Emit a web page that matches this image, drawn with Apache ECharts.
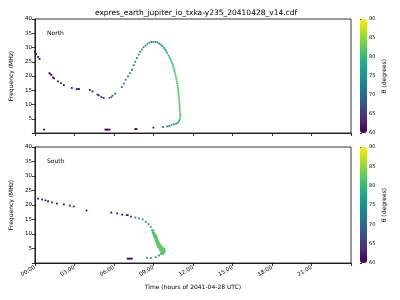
<!DOCTYPE html>
<html>
<head>
<meta charset="utf-8">
<script src="https://cdn.jsdelivr.net/npm/echarts@6/dist/echarts.min.js"></script>
<style>html,body{margin:0;padding:0;background:#fff}#c{width:400px;height:300px}</style>
</head>
<body>
<div id="c"></div>
<script>
// ---------- data ----------
const titleText = 'expres_earth_jupiter_io_txka-y235_20410428_v14.cdf';
const xTicks = [0, 3, 6, 9, 12, 15, 18, 21, 24];
const yTicks = [5, 10, 15, 20, 25, 30, 35, 40];
const cbTicks = [60, 65, 70, 75, 80, 85, 90];

// North: time (hours), frequency (MHz), theta (degrees)
const northTime = [0.00,0.10,0.25,0.35,0.70,1.10,1.18,1.25,1.37,1.45,1.75,1.97,2.20,2.80,3.17,3.27,3.35,4.17,4.37,4.75,4.85,5.05,5.22,
  5.35,5.45,5.55,5.67,5.65,5.80,5.90,6.10,6.60,6.75,6.90,7.07,7.22,7.37,7.50,7.62,7.75,7.88,8.00,8.12,8.25,8.40,8.55,8.70,8.85,9.00,
  9.15,9.30,9.43,9.55,9.67,9.80,9.90,9.97,10.05,10.15,10.22,10.30,10.37,10.43,10.48,10.52,10.57,10.60,10.65,10.68,10.72,10.75,10.77,
  10.80,10.82,10.85,10.87,10.88,10.90,10.92,10.93,10.95,10.96,10.97,10.98,10.99,11.00,11.00,11.02,11.03,11.03,11.00,10.95,10.85,
  10.72,10.55,10.37,10.20,10.05,9.73,9.00,7.62,7.72];
const northFreq = [28.4,27.7,26.7,26.0,1.2,21.0,20.7,20.3,19.5,19.2,18.1,17.5,16.8,15.8,15.4,15.4,15.4,15.1,14.6,13.5,13.2,12.6,12.3,
  1.2,1.2,1.2,1.2,12.3,12.6,13.1,13.8,16.1,17.3,18.7,19.9,21.0,22.2,23.8,25.0,26.3,27.5,28.5,29.3,30.1,30.7,31.3,31.7,31.9,32.0,
  31.9,31.8,31.4,31.0,30.5,29.9,29.3,28.7,28.0,27.2,26.5,25.8,25.1,24.4,23.7,23.0,22.3,21.6,20.9,20.2,19.5,18.8,18.1,
  17.4,16.7,16.0,15.3,14.6,13.9,13.2,12.5,11.8,11.1,10.4,9.7,9.0,8.3,7.6,6.9,6.2,5.5,4.8,4.2,3.6,
  3.3,3.1,2.8,2.5,2.3,2.1,1.9,1.4,1.4];
const northTheta = [61,61,61,61,60,61,61,61,61,61,61,61,61,61,61,61,61,61,61,62,62,62,62,
  60,60,60,60,70,71,71,72,72,72,73,73,73,73,74,74,74,74,74,74,75,75,75,75,75,75,
  75,75,75,76,76,76,77,77,78,78,79,79,80,80,80,81,81,81,82,82,82,82,82,
  82,82,82,82,82,82,82,82,82,82,82,82,82,82,82,82,82,82,81,79,77,
  76,76,75,75,74,73,61,60,60];

// South: time (hours), frequency (MHz), theta (degrees)
const southTime = [0.25,0.55,0.80,1.00,1.30,1.67,2.20,2.65,2.95,3.92,5.80,6.25,6.62,6.97,7.05,7.30,7.05,7.15,7.25,7.35,
  7.63,7.90,8.18,8.42,8.62,8.80,
  8.88,8.98, 8.93,9.03, 8.98,9.08, 9.02,9.12,9.20, 9.06,9.15,9.24, 9.10,9.20,9.30, 9.15,9.24,9.33, 9.20,9.30,9.40,
  9.25,9.35,9.45, 9.30,9.40,9.50,9.58, 9.35,9.45,9.55,9.65, 9.45,9.55,9.65,9.75,9.82, 9.50,9.60,9.70,9.80,9.85,
  9.60,9.70,9.80,9.85, 9.55,9.65,9.75,
  9.43,9.17,8.80,8.50];
const southFreq = [22.2,21.9,21.6,21.3,20.9,20.5,20.2,19.8,19.5,18.1,17.4,17.1,16.7,16.5,16.5,16.0,1.5,1.5,1.5,1.5,
  15.7,15.4,15.0,14.2,13.4,12.4,
  11.3,11.3, 10.6,10.6, 10.1,10.1, 9.5,9.5,9.5, 9.0,9.0,9.0, 8.4,8.4,8.4, 7.8,7.8,7.8, 7.2,7.2,7.2,
  6.7,6.7,6.7, 6.1,6.1,6.1,6.1, 5.5,5.5,5.5,5.5, 5.0,5.0,5.0,5.0,5.0, 4.4,4.4,4.4,4.4,4.4,
  3.8,3.8,3.8,3.8, 3.2,3.2,3.2,
  2.6,2.0,1.7,1.8];
const southTheta = [61,61,61,61,61,61,61,61,61,61,61,61,61,62,62,63,60,60,60,60,
  72,73,74,75,77,79,
  80,80, 81,81, 81,81, 82,82,82, 82,82,82, 82,82,82, 82,82,82, 82,82,82,
  82,82,82, 82,82,82,82, 82,82,82,82, 82,82,82,82,82, 82,82,82,82,82,
  82,82,82,82, 80,80,80,
  77,76,75,74];

// ---------- chart ----------
const zip = (t, f, th) => t.map((v, i) => [v, f[i], th[i]]);
const viridis = ['#440154','#482878','#3e4989','#31688e','#26828e','#1f9e89','#35b779','#6ece58','#b5de2b','#fde725'];
const FONT = 'DejaVu Sans';
const panels = [{top: 19, height: 114, label: 'North'}, {top: 147, height: 116, label: 'South'}];

const grids = [], xAxes = [], yAxes = [], series = [], vms = [], titles = [];
titles.push({text: titleText, left: 191, top: 4, textAlign: 'center',
  textStyle: {fontFamily: FONT, fontSize: 7.5, fontWeight: 'normal', color: '#000'}});

panels.forEach((p, i) => {
  grids.push({left: 31, width: 320, top: p.top, height: p.height, show: true, borderColor: '#000', borderWidth: 0.8, backgroundColor: 'transparent'});
  grids.push({left: 360, width: 7, top: p.top, height: p.height, show: false});
  const last = i === panels.length - 1;
  xAxes.push({type: 'value', gridIndex: 2 * i, min: 0, max: 24, interval: 3,
    axisLine: {show: true, onZero: false, lineStyle: {color: '#000', width: 0.8}},
    axisTick: {show: true, length: 3, lineStyle: {color: '#000', width: 0.8}},
    splitLine: {show: false},
    axisLabel: {show: last, rotate: 30, fontSize: 5.5, fontFamily: FONT, color: '#000', margin: 4,
      formatter: v => v >= 24 ? '' : String(v).padStart(2, '0') + ':00'},
    name: last ? 'Time (hours of 2041-04-28 UTC)' : '', nameLocation: 'middle', nameGap: 21,
    nameTextStyle: {fontFamily: FONT, fontSize: 6, color: '#000'}});
  xAxes.push({type: 'value', gridIndex: 2 * i + 1, show: false, min: 0, max: 1});
  yAxes.push({type: 'value', gridIndex: 2 * i, min: 0, max: 40, interval: 5,
    axisLine: {show: true, lineStyle: {color: '#000', width: 0.8}},
    axisTick: {show: true, length: 3, lineStyle: {color: '#000', width: 0.8}},
    splitLine: {show: false},
    axisLabel: {fontSize: 5.5, fontFamily: FONT, color: '#000', margin: 3, formatter: v => v === 0 ? '' : String(v)},
    name: 'Frequency (MHz)', nameLocation: 'middle', nameGap: 18,
    nameTextStyle: {fontFamily: FONT, fontSize: 6, color: '#000'}});
  yAxes.push({type: 'value', gridIndex: 2 * i + 1, position: 'right', min: 60, max: 90, interval: 5,
    axisLine: {show: false},
    axisTick: {show: true, length: 2, lineStyle: {color: '#000', width: 0.8}},
    splitLine: {show: false},
    axisLabel: {fontSize: 5, fontFamily: FONT, color: '#000', margin: 2},
    name: 'θ (degrees)', nameLocation: 'middle', nameGap: 14, nameRotate: 90,
    nameTextStyle: {fontFamily: FONT, fontSize: 6, color: '#000'}});
  const data = i === 0 ? zip(northTime, northFreq, northTheta) : zip(southTime, southFreq, southTheta);
  series.push({type: 'scatter', xAxisIndex: 2 * i, yAxisIndex: 2 * i, data: data,
    symbol: 'rect', symbolSize: 1.8, itemStyle: {opacity: 1}, animation: false, silent: true});
  series.push({type: 'scatter', xAxisIndex: 2 * i + 1, yAxisIndex: 2 * i + 1, data: [], silent: true});
  vms.push({type: 'continuous', seriesIndex: 2 * i, dimension: 2, min: 60, max: 90,
    inRange: {color: viridis}, calculable: false, hoverLink: false, text: null,
    left: 360, top: p.top, itemWidth: 7, itemHeight: p.height, padding: 0, showLabel: false});
  titles.push({text: p.label, left: 42, top: p.top + 6,
    textStyle: {fontFamily: FONT, fontSize: 6, fontWeight: 'normal', color: '#000'}});
});

const chart = echarts.init(document.getElementById('c'), null, {renderer: 'canvas'});
chart.setOption({
  animation: false,
  backgroundColor: '#fff',
  title: titles,
  grid: grids,
  xAxis: xAxes,
  yAxis: yAxes,
  visualMap: vms,
  series: series
});
</script>
</body>
</html>
